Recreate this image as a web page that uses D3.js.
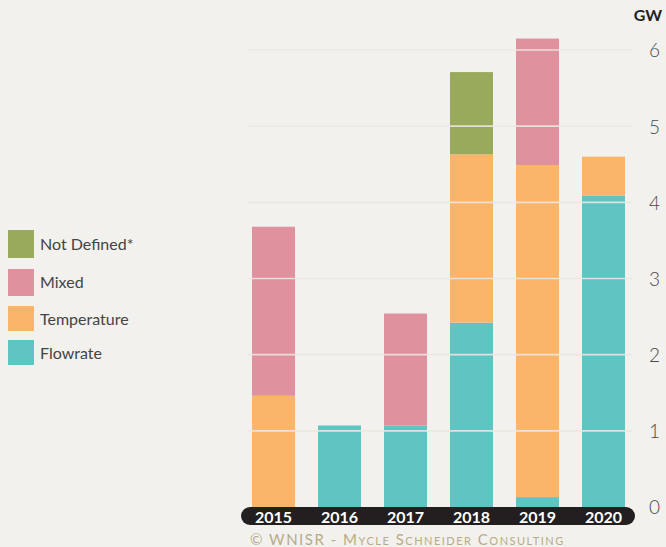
<!DOCTYPE html>
<html>
<head>
<meta charset="utf-8">
<script src="https://cdn.jsdelivr.net/npm/d3@7"></script>
<style>
  html, body { margin: 0; padding: 0; background: #f2f1ed; }
  svg { display: block; font-family: Lato, 'Open Sans', sans-serif; }
</style>
</head>
<body>
<div id="chart"></div>
<script>
const years = ['2015', '2016', '2017', '2018', '2019', '2020']
const series = ['Flowrate', 'Temperature', 'Mixed', 'Not Defined']
const legendLabels = ['Not Defined*', 'Mixed', 'Temperature', 'Flowrate']
const colors = ['#60c4c3', '#fbb56b', '#df929e', '#99aa5c']

// GW per year and category
const flowrate = [0, 1.07, 1.07, 2.42, 0.13, 4.09]
const temperature = [1.46, 0, 0, 2.21, 4.36, 0.51]
const mixed = [2.22, 0, 1.47, 0, 1.66, 0]
const notDefined = [0, 0, 0, 1.08, 0, 0]
const yTicks = [0, 1, 2, 3, 4, 5, 6]

const width = 666
const height = 547
const plotTop = 50
const plotBottom = 507

const svg = d3
  .select('#chart')
  .append('svg')
  .attr('width', width)
  .attr('height', height)

const table = years.map((y, i) => ({
  year: y,
  Flowrate: flowrate[i],
  Temperature: temperature[i],
  Mixed: mixed[i],
  'Not Defined': notDefined[i]
}))

const stacked = d3.stack().keys(series)(table)

const xPositionScale = d3
  .scaleBand()
  .domain(years)
  .range([240.5, 636.5])
  .paddingInner(23 / 66)
  .paddingOuter(11.5 / 66)

const yPositionScale = d3
  .scaleLinear()
  .domain([0, 6])
  .range([plotBottom, plotTop])

const colorScale = d3.scaleOrdinal().domain(series).range(colors)

// bars
svg
  .selectAll('.layer')
  .data(stacked)
  .enter()
  .append('g')
  .attr('class', 'layer')
  .attr('fill', d => colorScale(d.key))
  .selectAll('rect')
  .data(d => d.filter(p => p[1] - p[0] > 0))
  .enter()
  .append('rect')
  .attr('x', d => xPositionScale(d.data.year))
  .attr('width', xPositionScale.bandwidth())
  .attr('y', d => yPositionScale(d[1]))
  .attr('height', d => yPositionScale(d[0]) - yPositionScale(d[1]))

// gridlines drawn over the bars
svg
  .append('g')
  .attr('class', 'grid')
  .selectAll('line')
  .data(yTicks.filter(d => d > 0))
  .enter()
  .append('line')
  .attr('x1', 248)
  .attr('x2', 633)
  .attr('y1', d => yPositionScale(d))
  .attr('y2', d => yPositionScale(d))
  .attr('stroke', '#ebe7e0')
  .attr('stroke-opacity', 0.9)
  .attr('stroke-width', 1.6)

// right axis labels
const yAxis = d3
  .axisRight(yPositionScale)
  .tickValues(yTicks)
  .tickFormat(d3.format('d'))
  .tickSize(0)
  .tickPadding(0)
const yAxisG = svg
  .append('g')
  .attr('class', 'axis y-axis')
  .attr('transform', 'translate(649,0)')
  .call(yAxis)
yAxisG.select('.domain').remove()
yAxisG
  .selectAll('text')
  .attr('font-size', '19px')
  .attr('font-family', 'Lato, sans-serif')
  .attr('font-weight', 300)
  .attr('fill', '#4a4a4a')
  .attr('dy', '0.36em')

svg
  .append('text')
  .text('GW')
  .attr('x', 662)
  .attr('y', 21)
  .attr('text-anchor', 'end')
  .attr('font-size', '16px')
  .attr('font-weight', 'bold')
  .attr('fill', '#222')

// year band
svg
  .append('rect')
  .attr('x', 241)
  .attr('y', 507)
  .attr('width', 394)
  .attr('height', 18)
  .attr('rx', 9)
  .attr('fill', '#231f20')

svg
  .append('g')
  .selectAll('text')
  .data(years)
  .enter()
  .append('text')
  .text(d => d)
  .attr('x', d => xPositionScale(d) + xPositionScale.bandwidth() / 2)
  .attr('y', 522.5)
  .attr('text-anchor', 'middle')
  .attr('font-size', '16px')
  .attr('font-weight', 'bold')
  .attr('fill', '#fff')

// legend
const legend = svg
  .append('g')
  .selectAll('g')
  .data(legendLabels)
  .enter()
  .append('g')
  .attr('transform', (d, i) => 'translate(8,' + [230, 269, 306, 340][i] + ')')

legend
  .append('rect')
  .attr('width', 26)
  .attr('height', (d, i) => [28, 27, 25, 25][i])
  .attr('fill', (d, i) => colors[3 - i])

legend
  .append('text')
  .text(d => d)
  .attr('x', 32)
  .attr('y', (d, i) => [14, 13, 13, 13][i])
  .attr('dy', '0.35em')
  .attr('font-size', '16px')
  .attr('fill', '#444')

// credit
svg
  .append('text')
  .attr('x', 250)
  .attr('y', 545)
  .attr('font-size', '15px')
  .attr('fill', '#b9ab88')
  .attr('letter-spacing', '1.5px')
  .style('font-variant', 'small-caps')
  .text('© WNISR - Mycle Schneider Consulting')
</script>
</body>
</html>
